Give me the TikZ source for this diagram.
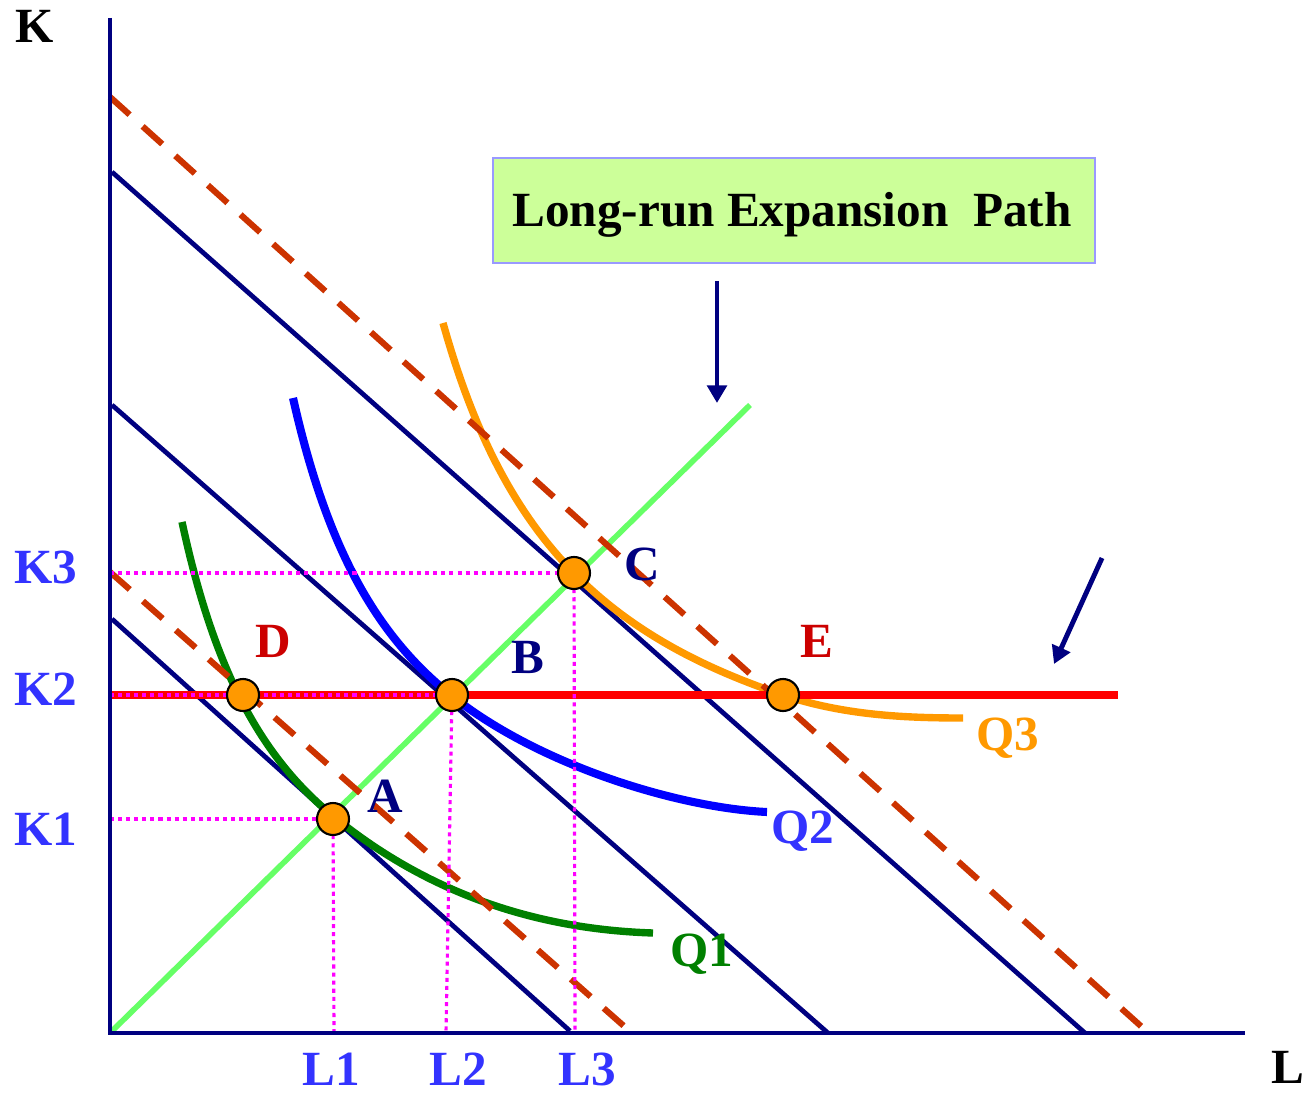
\documentclass[tikz,border=0pt]{standalone}
\usepackage{fontspec}
\setmainfont{Liberation Serif}
\usetikzlibrary{arrows.meta}
\definecolor{navyc}{RGB}{0,0,128}
\definecolor{dashc}{RGB}{204,51,0}
\definecolor{pathc}{RGB}{102,255,102}
\definecolor{qone}{RGB}{0,128,0}
\definecolor{qtwo}{RGB}{0,0,255}
\definecolor{qthree}{RGB}{255,153,0}
\definecolor{lblblue}{RGB}{51,51,255}
\definecolor{lblred}{RGB}{204,0,0}
\definecolor{magc}{RGB}{255,0,255}
\definecolor{boxfill}{RGB}{204,255,153}
\definecolor{boxdraw}{RGB}{153,153,255}
\begin{document}
\begin{tikzpicture}[x=0.02cm,y=-0.02cm,
  lbl/.style={font=\fontsize{28}{30}\selectfont\bfseries, inner sep=0pt, anchor=base},
  axisline/.style={navyc, line width=2.8pt},
  budget/.style={navyc, line width=2.7pt},
  isocost/.style={dashc, line width=3.5pt, dash pattern=on 15pt off 10pt},
  guide/.style={magc, line width=1.8pt, dash pattern=on 2.3pt off 2.3pt},
  eqpt/.style={circle, draw=black, line width=1.2pt, fill=qthree, minimum size=0.64cm, inner sep=0pt},
  isoquant/.style={line width=4.2pt},
  pointer/.style={navyc, line width=2.8pt, -{Triangle[length=10pt,width=11pt]}},
  titlebox/.style={draw=boxdraw, fill=boxfill, line width=1.2pt, minimum width=12.04cm, minimum height=2.1cm, inner sep=0pt}
]
\useasboundingbox (0,0) rectangle (1310,1094);

% coordinates
\coordinate (O) at (110,1033);
\coordinate (Ktop) at (110,18);
\coordinate (Lend) at (1245,1033);
\coordinate (b1s) at (112,619); \coordinate (b1e) at (570,1031);
\coordinate (b2s) at (112,405); \coordinate (b2e) at (828,1033);
\coordinate (b3s) at (112,172); \coordinate (b3e) at (1085,1033);
\coordinate (d1s) at (110,572); \coordinate (d1e) at (625,1027);
\coordinate (d2s) at (110,97);  \coordinate (d2e) at (1143,1028);
\coordinate (pathe) at (750,405);
\coordinate (k2s) at (110,695); \coordinate (k2e) at (1118,695);
\coordinate (k1s) at (110,819); \coordinate (k3s) at (110,573);
\coordinate (l1e) at (334,1033); \coordinate (l2e) at (446,1033); \coordinate (l3e) at (575,1033);
\coordinate (arr1s) at (717,281); \coordinate (arr1e) at (717,403);
\coordinate (arr2s) at (1102,558); \coordinate (arr2e) at (1054,664);
\coordinate (pA) at (333,819);
\coordinate (pB) at (452,695);
\coordinate (pC) at (574,573);
\coordinate (pD) at (243,695);
\coordinate (pE) at (783,695);

% expansion path
\draw[pathc, line width=3.2pt] (O) -- (pathe);

% budget lines
\draw[budget] (b1s) -- (b1e);
\draw[budget] (b2s) -- (b2e);
\draw[budget] (b3s) -- (b3e);

% isoquants
\draw[isoquant, qone] plot[domain=72:223, samples=60, variable=\t] ({\t+110}, {1033-5-551.06/((\t+36.9)/100)})
   .. controls (443,906) and (560,930) .. (653,933);
\draw[isoquant, qtwo, line width=4.6pt] plot[domain=183:342, samples=60, variable=\t] ({\t+110}, {1033-119.8-597.14/((\t-67.1)/100)})
   .. controls (540,766) and (680,808) .. (767,812);
\draw[isoquant, qthree] plot[domain=333:673, samples=80, variable=\t] ({\t+110}, {1033-174.1-802.75/((\t-183.2)/100)})
   .. controls (843,715) and (903,718) .. (963,718);

% dashed isocost
\draw[isocost] (d1s) -- (d1e);
\draw[isocost] (d2s) -- (d2e);

% K2 red line
\draw[red, line width=4pt] (k2s) -- (k2e);

% guides
\draw[guide] (k3s) -- (pC);
\draw[guide] (k2s) -- (pB);
\draw[guide] (k1s) -- (pA);
\draw[guide] (pA) -- (l1e);
\draw[guide] (pB) -- (l2e);
\draw[guide] (pC) -- (l3e);

% axes
\draw[axisline] (Ktop) -- (O) -- (Lend);

% points
\node[eqpt] (A) at (pA) {};
\node[eqpt] (B) at (pB) {};
\node[eqpt] (C) at (pC) {};
\node[eqpt] (D) at (pD) {};
\node[eqpt] (E) at (pE) {};

% title box and arrows
\node[titlebox] (title) at (794,210.5) {};
\node[lbl] (titletext) at (792,227) {Long-run Expansion\ \ Path};
\draw[pointer] (arr1s) -- (arr1e);
\draw[pointer] (arr2s) -- (arr2e);

% axis labels
\node[lbl] (Klbl) at (35,43) {K};
\node[lbl] (Llbl) at (1288,1083) {L};
\node[lbl, lblblue] (K3) at (46,583) {K3};
\node[lbl, lblblue] (K2) at (46,705) {K2};
\node[lbl, lblblue] (K1) at (46,845) {K1};
\node[lbl, lblblue] (L1) at (331,1085) {L1};
\node[lbl, lblblue] (L2) at (458,1085) {L2};
\node[lbl, lblblue] (L3) at (587,1085) {L3};

% point labels
\node[lbl, navyc] (Alb) at (385,812) {A};
\node[lbl, navyc] (Blb) at (528,673) {B};
\node[lbl, navyc] (Clb) at (642,580) {C};
\node[lbl, lblred] (Dlb) at (273,657) {D};
\node[lbl, lblred] (Elb) at (817,657) {E};

% isoquant labels
\node[lbl, qone] (Q1) at (702,966) {Q1};
\node[lbl, lblblue] (Q2) at (803,843) {Q2};
\node[lbl, qthree] (Q3) at (1008,750) {Q3};
\end{tikzpicture}
\end{document}
